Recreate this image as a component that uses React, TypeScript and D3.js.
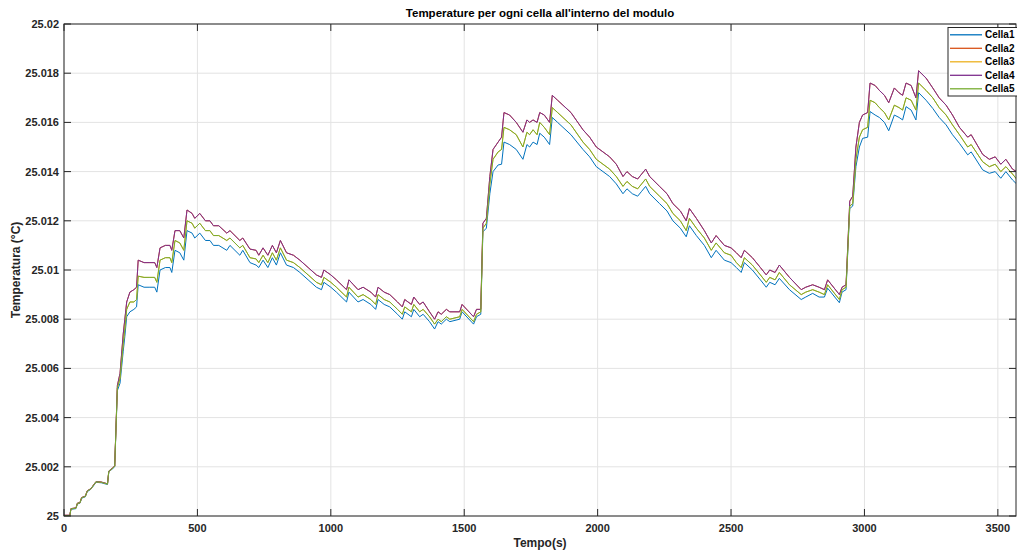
import React from 'react';
import * as d3 from 'd3';

const seriesNames = ['Cella1', 'Cella2', 'Cella3', 'Cella4', 'Cella5'];
const seriesColors = ['#0072BD', '#D95319', '#EDB120', '#7E2F8E', '#77AC30'];

const time = [
  0, 22, 26, 45, 50, 60, 66, 80, 87, 100, 106, 120, 140, 163, 168, 180, 190,
  200, 210, 222, 228, 235, 247, 262, 272, 278, 300, 322, 340, 348, 360, 380, 397, 404, 416, 434, 449, 461,
  480, 490, 509, 530, 547, 560, 580, 610, 622, 659, 670, 697, 720, 730, 746, 764, 781, 796, 811, 834, 860,
  884, 915, 946, 965, 974, 1000, 1021, 1059, 1068, 1085, 1102, 1121, 1150, 1168, 1177, 1200, 1221, 1250,
  1268, 1277, 1302, 1311, 1333, 1346, 1370, 1389, 1402, 1414, 1433, 1446, 1483, 1492, 1535, 1546, 1562,
  1570, 1583, 1596, 1608, 1627, 1640, 1649, 1670, 1695, 1720, 1735, 1745, 1758, 1773, 1783, 1800, 1820,
  1830, 1850, 1870, 1900, 1945, 1970, 1995, 2020, 2045, 2070, 2095, 2110, 2130, 2150, 2165, 2180, 2195,
  2232, 2260, 2282, 2310, 2332, 2344, 2370, 2400, 2426, 2444, 2475, 2500, 2520, 2538, 2550, 2580, 2610,
  2632, 2645, 2665, 2681, 2719, 2763, 2780, 2806, 2830, 2850, 2862, 2906, 2916, 2931, 2945, 2956, 2968,
  2981, 2993, 3012, 3021, 3040, 3056, 3075, 3091, 3112, 3130, 3143, 3156, 3175, 3193, 3203, 3231, 3256,
  3280, 3306, 3330, 3356, 3387, 3400, 3443, 3468, 3490, 3511, 3530, 3555, 3570,
];

const cella1 = [
  25.0, 25.0, 25.00027, 25.0003, 25.00049, 25.00052, 25.00072, 25.00078, 25.00099, 25.00108, 25.00116, 25.00137, 25.00135, 25.00128, 25.0018, 25.0019, 25.002,
  25.0051, 25.0054, 25.0067, 25.0073, 25.0081, 25.0083, 25.0084, 25.0085, 25.0094, 25.0093, 25.0093, 25.0093, 25.0091, 25.01, 25.0101, 25.0101, 25.0099, 25.0108, 25.0107, 25.0104, 25.0116,
  25.0115, 25.0113, 25.0115, 25.0112, 25.0112, 25.011, 25.011, 25.0108, 25.011, 25.0106, 25.0108, 25.0103, 25.0102, 25.0101, 25.0104, 25.0101, 25.0105, 25.0102, 25.0107, 25.0102, 25.0101,
  25.0099, 25.0096, 25.0093, 25.0092, 25.0095, 25.0093, 25.0091, 25.0087, 25.0091, 25.0089, 25.0087, 25.0088, 25.0086, 25.0084, 25.0088, 25.0086, 25.0085, 25.0082,
  25.008, 25.0083, 25.0081, 25.0084, 25.0081, 25.0082, 25.0079, 25.0076, 25.0079, 25.0078, 25.008, 25.0079, 25.008, 25.0083, 25.0078, 25.0081, 25.0082,
  25.01155, 25.0117, 25.0131, 25.014, 25.01427, 25.0143, 25.0152, 25.0151, 25.0149, 25.0145, 25.0151, 25.015, 25.0152, 25.0151, 25.01556, 25.0154, 25.0151,
  25.0162, 25.016, 25.0158, 25.0155, 25.0149, 25.0146, 25.0142, 25.014, 25.0138, 25.0135, 25.0131, 25.0133, 25.0131, 25.013, 25.0132, 25.0134, 25.0131,
  25.0127, 25.0124, 25.012, 25.0117, 25.01135, 25.0118, 25.0114, 25.011, 25.0105, 25.0108, 25.0104, 25.0103, 25.0101, 25.0099, 25.0103, 25.01, 25.0096,
  25.0093, 25.0095, 25.0094, 25.00966, 25.0092, 25.0088, 25.0089, 25.00905, 25.0089, 25.0089, 25.00926, 25.00867, 25.0091, 25.0092, 25.0125, 25.0126, 25.0142,
  25.015, 25.01535, 25.0154, 25.01644, 25.0163, 25.0162, 25.016, 25.01566, 25.0163, 25.0162, 25.0161, 25.01664, 25.0165, 25.0161, 25.01721, 25.0169, 25.01657,
  25.0162, 25.0159, 25.0155, 25.01515, 25.01468, 25.0148, 25.01407, 25.01393, 25.014, 25.01373, 25.014, 25.01366, 25.0135,
];

const cella5 = [
  25.00002, 25.00002, 25.00029, 25.00032, 25.00051, 25.00054, 25.00074, 25.0008, 25.00101, 25.0011, 25.00118, 25.00139, 25.00137, 25.0013, 25.00182, 25.00192, 25.00202,
  25.0052, 25.0056, 25.007, 25.0076, 25.0084, 25.0087, 25.0087, 25.0088, 25.00975, 25.0097, 25.0097, 25.0097, 25.0095, 25.0104, 25.0105, 25.0105, 25.0103, 25.0112, 25.0111, 25.0108, 25.012,
  25.0119, 25.0117, 25.0119, 25.0116, 25.0116, 25.0114, 25.0114, 25.0112, 25.0113, 25.0109, 25.011, 25.0105, 25.01045, 25.0103, 25.0106, 25.0103, 25.0107, 25.0104, 25.0109, 25.0104, 25.0103,
  25.0101, 25.0098, 25.0095, 25.0094, 25.0097, 25.0095, 25.0093, 25.0089, 25.0093, 25.0091, 25.0089, 25.009, 25.0088, 25.0086, 25.009, 25.0088, 25.0087, 25.0084,
  25.0082, 25.0085, 25.0083, 25.0086, 25.0083, 25.0084, 25.0081, 25.0078, 25.008, 25.0079, 25.0081, 25.008, 25.0081, 25.0084, 25.0079, 25.0082, 25.0083,
  25.0117, 25.0119, 25.0135, 25.0145, 25.0148, 25.0149, 25.0158, 25.0157, 25.0155, 25.015, 25.0156, 25.0155, 25.0157, 25.0155, 25.016, 25.0158, 25.0155,
  25.0166, 25.0164, 25.0162, 25.0159, 25.0152, 25.0149, 25.0145, 25.0143, 25.0141, 25.0138, 25.0134, 25.0136, 25.0134, 25.0133, 25.0135, 25.0137, 25.0134,
  25.013, 25.0127, 25.0123, 25.012, 25.0116, 25.0121, 25.0117, 25.0113, 25.0108, 25.0111, 25.0107, 25.0106, 25.0103, 25.0101, 25.0105, 25.0102, 25.0098,
  25.0095, 25.0097, 25.0096, 25.0099, 25.0094, 25.009, 25.0091, 25.0092, 25.0091, 25.009, 25.0094, 25.0088, 25.0092, 25.0093, 25.0126, 25.0127, 25.0145,
  25.0154, 25.0157, 25.0158, 25.0169, 25.0168, 25.0166, 25.0164, 25.0161, 25.0167, 25.0166, 25.0165, 25.017, 25.0169, 25.0165, 25.0176, 25.0173, 25.017,
  25.0166, 25.0163, 25.0159, 25.0155, 25.015, 25.0151, 25.0144, 25.0142, 25.0143, 25.014, 25.0142, 25.0139, 25.0137,
];

const cella4 = [
  25.00003, 25.00003, 25.0003, 25.00033, 25.00052, 25.00055, 25.00075, 25.00081, 25.00102, 25.00111, 25.00119, 25.0014, 25.00138, 25.00131, 25.00183, 25.00193, 25.00204,
  25.0053, 25.0058, 25.0074, 25.008, 25.0087, 25.0091, 25.0092, 25.0093, 25.0104, 25.0103, 25.0103, 25.0103, 25.0101, 25.0109, 25.011, 25.011, 25.0108, 25.0116, 25.0116, 25.0113, 25.01244,
  25.0123, 25.0121, 25.0123, 25.012, 25.012, 25.0118, 25.0118, 25.0115, 25.0116, 25.0112, 25.0113, 25.01085, 25.0108, 25.0106, 25.0109, 25.0106, 25.011, 25.0107, 25.0112, 25.0107, 25.0106,
  25.0104, 25.0101, 25.0098, 25.0097, 25.01, 25.0098, 25.0096, 25.0092, 25.0096, 25.0094, 25.0092, 25.0093, 25.0091, 25.0089, 25.0093, 25.0091, 25.009, 25.0087,
  25.0085, 25.0088, 25.0086, 25.0089, 25.0086, 25.0087, 25.0083, 25.008, 25.0083, 25.0082, 25.0084, 25.0083, 25.0083, 25.0086, 25.0081, 25.0084, 25.0084,
  25.0119, 25.0121, 25.0138, 25.0149, 25.0152, 25.0154, 25.0164, 25.0163, 25.016, 25.0156, 25.0161, 25.016, 25.0161, 25.016, 25.0164, 25.0163, 25.016,
  25.0171, 25.0169, 25.0167, 25.0164, 25.0157, 25.0154, 25.015, 25.0148, 25.0146, 25.0143, 25.0138, 25.014, 25.0138, 25.0137, 25.0139, 25.0141, 25.0138,
  25.0134, 25.0131, 25.0127, 25.0124, 25.012, 25.0125, 25.0121, 25.0116, 25.0111, 25.0114, 25.011, 25.0109, 25.0107, 25.0105, 25.0108, 25.0105, 25.0101,
  25.0098, 25.01, 25.0099, 25.0102, 25.0097, 25.0092, 25.0093, 25.0094, 25.0093, 25.0092, 25.0096, 25.009, 25.0093, 25.0094, 25.0128, 25.013, 25.015,
  25.016, 25.0163, 25.0164, 25.0176, 25.0175, 25.0173, 25.0171, 25.0168, 25.0174, 25.0172, 25.0171, 25.0176, 25.0175, 25.017, 25.0181, 25.0178, 25.0174,
  25.017, 25.0167, 25.0163, 25.0158, 25.0154, 25.0155, 25.0147, 25.0145, 25.0146, 25.0143, 25.0145, 25.0141, 25.014,
];

// Cella2 and Cella3 are hidden under Cella4 and Cella5 in the reference
const cella2 = cella4;
const cella3 = cella5;

const seriesValues = [cella1, cella2, cella3, cella4, cella5];

const xTicks = [0, 500, 1000, 1500, 2000, 2500, 3000, 3500];
const yTicks = [25, 25.002, 25.004, 25.006, 25.008, 25.01, 25.012, 25.014, 25.016, 25.018, 25.02];
const yTickLabels = ['25', '25.002', '25.004', '25.006', '25.008', '25.01', '25.012', '25.014', '25.016', '25.018', '25.02'];

const W = 1017;
const H = 552;
const M = { left: 64, top: 24, right: 1016, bottom: 516 };

export default function App() {
  const x = d3.scaleLinear().domain([0, 3568]).range([M.left, M.right]);
  const y = d3.scaleLinear().domain([25, 25.02]).range([M.bottom, M.top]);
  const line = d3
    .line<number>()
    .x((_, i) => x(time[i]))
    .y((d) => y(d));
  const axisColor = '#262626';
  const gridColor = '#e3e3e3';
  const font = 'Liberation Sans, Arial, Helvetica, sans-serif';
  const tickLen = 7;
  const legendX = 948;
  const legendY = 27.5;
  const legendRow = 13.5;

  return (
    <svg width={W} height={H} style={{ position: 'absolute', left: 0, top: 0, background: '#fff' }} fontFamily={font}>
      <defs>
        <clipPath id="plotClip">
          <rect x={M.left} y={M.top} width={M.right - M.left} height={M.bottom - M.top} />
        </clipPath>
      </defs>
      <rect x={0} y={0} width={W} height={H} fill="#fff" />
      {/* grid */}
      {xTicks.map((t) => (
        <line key={'gx' + t} x1={x(t)} x2={x(t)} y1={M.top} y2={M.bottom} stroke={gridColor} strokeWidth={1} />
      ))}
      {yTicks.map((t) => (
        <line key={'gy' + t} x1={M.left} x2={M.right} y1={y(t)} y2={y(t)} stroke={gridColor} strokeWidth={1} />
      ))}
      {/* lines */}
      <g clipPath="url(#plotClip)">
        {seriesValues.map((vals, i) => (
          <path key={seriesNames[i]} d={line(vals) || ''} fill="none" stroke={seriesColors[i]} strokeWidth={1} strokeLinejoin="round" />
        ))}
      </g>
      {/* box */}
      <rect x={M.left} y={M.top} width={M.right - M.left} height={M.bottom - M.top} fill="none" stroke={axisColor} strokeWidth={1} />
      {/* ticks */}
      {xTicks.map((t) => (
        <g key={'tx' + t}>
          <line x1={x(t)} x2={x(t)} y1={M.bottom} y2={M.bottom - tickLen} stroke={axisColor} />
          <line x1={x(t)} x2={x(t)} y1={M.top} y2={M.top + tickLen} stroke={axisColor} />
          <text x={x(t)} y={M.bottom + 16} textAnchor="middle" fontSize={11} fontWeight="bold" fill={axisColor}>
            {t}
          </text>
        </g>
      ))}
      {yTicks.map((t, i) => (
        <g key={'ty' + t}>
          <line x1={M.left} x2={M.left + tickLen} y1={y(t)} y2={y(t)} stroke={axisColor} />
          <line x1={M.right} x2={M.right - tickLen} y1={y(t)} y2={y(t)} stroke={axisColor} />
          <text x={M.left - 5} y={y(t) + 4} textAnchor="end" fontSize={11} fontWeight="bold" fill={axisColor}>
            {yTickLabels[i]}
          </text>
        </g>
      ))}
      {/* title & labels */}
      <text x={(M.left + M.right) / 2} y={17} textAnchor="middle" fontSize={11.5} fontWeight="bold" fill="#000">
        Temperature per ogni cella all'interno del modulo
      </text>
      <text x={(M.left + M.right) / 2} y={547} textAnchor="middle" fontSize={12} fontWeight="bold" fill={axisColor}>
        Tempo(s)
      </text>
      <text
        transform={`translate(20, ${(M.top + M.bottom) / 2}) rotate(-90)`}
        textAnchor="middle"
        fontSize={12}
        fontWeight="bold"
        fill={axisColor}
      >
        Temperatura (°C)
      </text>
      {/* legend */}
      <rect x={legendX} y={legendY} width={M.right - legendX + 2} height={68.5} fill="#fff" stroke={axisColor} strokeWidth={1} />
      {seriesNames.map((n, i) => {
        const ly = legendY + 7.3 + i * legendRow;
        return (
          <g key={'lg' + n}>
            <line x1={legendX + 2} x2={legendX + 34} y1={ly} y2={ly} stroke={seriesColors[i]} strokeWidth={1.3} />
            <text x={legendX + 37} y={ly + 3.6} fontSize={10} fontWeight="bold" fill="#000">
              {n}
            </text>
          </g>
        );
      })}
    </svg>
  );
}
